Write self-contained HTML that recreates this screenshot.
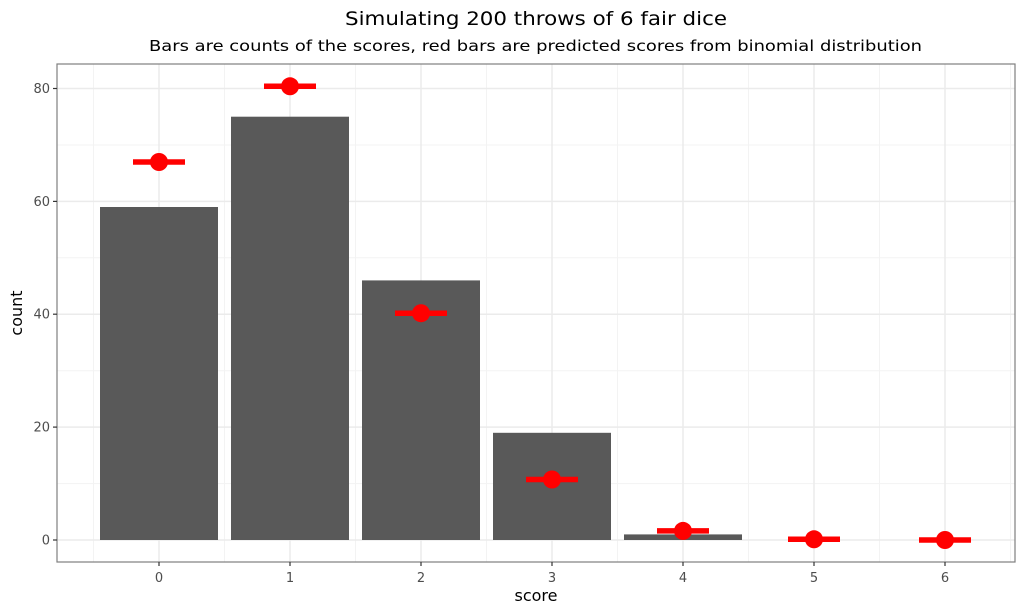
<!DOCTYPE html>
<html><head><meta charset="utf-8"><style>body{margin:0;background:#fff}svg{display:block}</style></head><body>
<svg width="1024" height="614" xmlns="http://www.w3.org/2000/svg" font-family="DejaVu Sans, Liberation Sans, sans-serif">
<rect width="1024" height="614" fill="#fff"/>
<g stroke="#f3f3f3" stroke-width="1">
<line x1="57" x2="1015" y1="483.6" y2="483.6"/><line x1="57" x2="1015" y1="370.7" y2="370.7"/><line x1="57" x2="1015" y1="257.8" y2="257.8"/><line x1="57" x2="1015" y1="145" y2="145"/>
<line y1="64" y2="562" x1="93.5" x2="93.5"/><line y1="64" y2="562" x1="224.5" x2="224.5"/><line y1="64" y2="562" x1="355.5" x2="355.5"/><line y1="64" y2="562" x1="486.5" x2="486.5"/><line y1="64" y2="562" x1="617.5" x2="617.5"/><line y1="64" y2="562" x1="748.5" x2="748.5"/><line y1="64" y2="562" x1="879.5" x2="879.5"/><line y1="64" y2="562" x1="1010.5" x2="1010.5"/>
</g>
<g stroke="#ebebeb" stroke-width="1.5">
<line x1="57" x2="1015" y1="540" y2="540"/><line x1="57" x2="1015" y1="427.1" y2="427.1"/><line x1="57" x2="1015" y1="314.2" y2="314.2"/><line x1="57" x2="1015" y1="201.4" y2="201.4"/><line x1="57" x2="1015" y1="88.5" y2="88.5"/>
<line y1="64" y2="562" x1="159" x2="159"/><line y1="64" y2="562" x1="290" x2="290"/><line y1="64" y2="562" x1="421" x2="421"/><line y1="64" y2="562" x1="552" x2="552"/><line y1="64" y2="562" x1="683" x2="683"/><line y1="64" y2="562" x1="814" x2="814"/><line y1="64" y2="562" x1="945" x2="945"/>
</g>
<g fill="#595959">
<rect x="100" y="207" width="118" height="333"/>
<rect x="231" y="116.7" width="118" height="423.3"/>
<rect x="362" y="280.4" width="118" height="259.6"/>
<rect x="493" y="432.8" width="118" height="107.2"/>
<rect x="624" y="534.4" width="118" height="5.6"/>
</g>
<g stroke="#f00" stroke-width="5.5">
<line x1="133" x2="185" y1="162" y2="162"/><line x1="264" x2="316" y1="86.3" y2="86.3"/><line x1="395" x2="447" y1="313.2" y2="313.2"/><line x1="526" x2="578" y1="479.5" y2="479.5"/><line x1="657" x2="709" y1="530.9" y2="530.9"/><line x1="788" x2="840" y1="539.3" y2="539.3"/><line x1="919" x2="971" y1="540" y2="540"/>
</g>
<g fill="#f00">
<circle cx="159" cy="162" r="9"/><circle cx="290" cy="86.3" r="9"/><circle cx="421" cy="313.2" r="9"/><circle cx="552" cy="479.5" r="9"/><circle cx="683" cy="530.9" r="9"/><circle cx="814" cy="539.3" r="9"/><circle cx="945" cy="540" r="9"/>
</g>
<rect x="57" y="64" width="958" height="498" fill="none" stroke="#7f7f7f" stroke-width="1.2"/>
<g stroke="#333" stroke-width="1.2">
<line x1="53" x2="57" y1="540" y2="540"/><line x1="53" x2="57" y1="427.1" y2="427.1"/><line x1="53" x2="57" y1="314.2" y2="314.2"/><line x1="53" x2="57" y1="201.4" y2="201.4"/><line x1="53" x2="57" y1="88.5" y2="88.5"/>
<line y1="562" y2="566" x1="159" x2="159"/><line y1="562" y2="566" x1="290" x2="290"/><line y1="562" y2="566" x1="421" x2="421"/><line y1="562" y2="566" x1="552" x2="552"/><line y1="562" y2="566" x1="683" x2="683"/><line y1="562" y2="566" x1="814" x2="814"/><line y1="562" y2="566" x1="945" x2="945"/>
</g>
<g fill="#4d4d4d" font-size="13" text-anchor="end">
<text x="50" y="544.5">0</text><text x="50" y="431.6">20</text><text x="50" y="318.7">40</text><text x="50" y="205.9">60</text><text x="50" y="93">80</text>
</g>
<g fill="#4d4d4d" font-size="13" text-anchor="middle">
<text x="159" y="582">0</text><text x="290" y="582">1</text><text x="421" y="582">2</text><text x="552" y="582">3</text><text x="683" y="582">4</text><text x="814" y="582">5</text><text x="945" y="582">6</text>
</g>
<text x="536" y="601" font-size="16" text-anchor="middle" fill="#000">score</text>
<text transform="translate(22,313) rotate(-90)" font-size="16" text-anchor="middle" fill="#000">count</text>
<text x="345" y="25" font-size="19" textLength="382" lengthAdjust="spacingAndGlyphs" fill="#000">Simulating 200 throws of 6 fair dice</text>
<text x="149" y="51" font-size="15.5" textLength="773" lengthAdjust="spacingAndGlyphs" fill="#000">Bars are counts of the scores, red bars are predicted scores from binomial distribution</text>
</svg>
</body></html>
